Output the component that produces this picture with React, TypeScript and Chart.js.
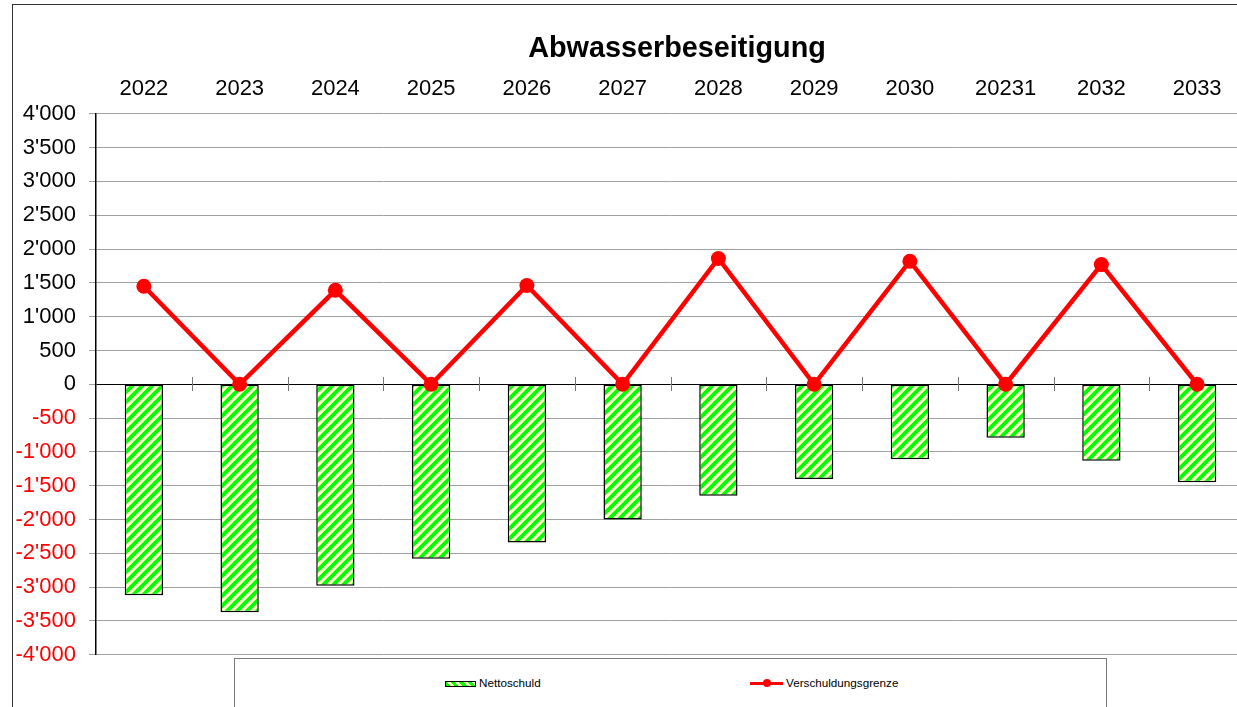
import React, { useEffect, useRef } from 'react';
import { Chart, registerables } from 'chart.js';
Chart.register(...registerables);

const categories = ['2022', '2023', '2024', '2025', '2026', '2027', '2028', '2029', '2030', '20231', '2032', '2033'];
const nettoschuld = [-3120, -3370, -2980, -2580, -2340, -2000, -1650, -1400, -1110, -790, -1130, -1450];
const verschuldungsgrenze = [1450, 0, 1390, 0, 1460, 0, 1860, 0, 1820, 0, 1770, 0];
const yMin = -4000;
const yMax = 4000;
const yStep = 500;
const titleText = 'Abwasserbeseitigung';
const legendLabels = ['Nettoschuld', 'Verschuldungsgrenze'];

const FONT = "'Liberation Sans', Arial, sans-serif";

function fmt(v: number): string {
  const s = Math.abs(v).toString().replace(/\B(?=(\d{3})+(?!\d))/g, "'");
  return (v < 0 ? '-' : '') + s;
}

function makePattern(ctx: CanvasRenderingContext2D) {
  const c = document.createElement('canvas');
  c.width = 10;
  c.height = 10;
  const g = c.getContext('2d')!;
  g.fillStyle = '#ffffc8';
  g.fillRect(0, 0, 10, 10);
  g.strokeStyle = '#00ff00';
  g.lineWidth = 3.8;
  g.beginPath();
  g.moveTo(-5, 15); g.lineTo(15, -5);
  g.moveTo(-5, 5); g.lineTo(5, -5);
  g.moveTo(5, 15); g.lineTo(15, 5);
  g.stroke();
  return ctx.createPattern(c, 'repeat');
}

const zeroTicks = {
  id: 'zeroTicks',
  beforeDatasetsDraw(chart: any) {
    const { ctx, scales } = chart;
    const x = scales.x;
    const y = scales.y;
    const y0 = Math.round(y.getPixelForValue(0));
    ctx.save();
    ctx.strokeStyle = '#777';
    ctx.lineWidth = 1;
    for (let i = 0; i < categories.length - 1; i++) {
      const px = Math.round((x.getPixelForValue(i) + x.getPixelForValue(i + 1)) / 2) + 0.5;
      ctx.beginPath();
      ctx.moveTo(px, y0 - 7);
      ctx.lineTo(px, y0 + 7);
      ctx.stroke();
    }
    ctx.restore();
  },
};

export default function App() {
  const ref = useRef<HTMLCanvasElement>(null);

  useEffect(() => {
    const canvas = ref.current!;
    const ctx = canvas.getContext('2d')!;
    const pattern = makePattern(ctx);
    const chart = new Chart(ctx, {
      type: 'bar',
      data: {
        labels: categories,
        datasets: [
          {
            type: 'line',
            label: legendLabels[1],
            data: verschuldungsgrenze,
            borderColor: '#ff0000',
            backgroundColor: '#ff0000',
            borderWidth: 4.5,
            pointRadius: 7.5,
            pointBackgroundColor: '#ff0000',
            pointBorderWidth: 0,
            tension: 0,
            order: 0,
          } as any,
          {
            type: 'bar',
            label: legendLabels[0],
            data: nettoschuld,
            backgroundColor: pattern as any,
            borderColor: '#000',
            borderWidth: 1.5,
            borderSkipped: false,
            categoryPercentage: 1,
            barPercentage: 0.4,
            order: 1,
          } as any,
        ],
      },
      options: {
        responsive: false,
        animation: false,
        events: [],
        layout: { padding: { left: 0, right: 0, top: 0, bottom: 20.7 } },
        plugins: {
          legend: { display: false },
          tooltip: { enabled: false },
          title: {
            display: true,
            text: titleText,
            color: '#000',
            font: { family: FONT, size: 28.8, weight: 'bold', lineHeight: 1.2 },
            padding: { top: 27, bottom: 0 },
          },
        },
        scales: {
          x: {
            position: 'top',
            grid: { display: false, drawTicks: false },
            border: { display: false },
            ticks: {
              color: '#000',
              font: { family: FONT, size: 22 },
              padding: 12,
              maxRotation: 0,
              autoSkip: false,
            },
            afterFit(s: any) { s.height = 47.2; },
          },
          y: {
            min: yMin,
            max: yMax,
            ticks: {
              stepSize: yStep,
              callback: (v: any) => fmt(Number(v)),
              color: (c: any) => (c.tick && c.tick.value < 0 ? '#ff0000' : '#000'),
              font: { family: FONT, size: 22 },
              padding: 13,
            },
            grid: {
              color: (c: any) => (c.tick && c.tick.value === 0 ? '#000' : '#a0a0a0'),
              tickColor: '#a0a0a0',
              tickLength: 7,
              lineWidth: 1,
            },
            border: { color: '#000', width: 1.5 },
            afterFit(s: any) { s.width = 83; },
          },
          y2: {
            position: 'right',
            display: true,
            min: yMin,
            max: yMax,
            grid: { display: false, drawTicks: false },
            border: { display: false },
            ticks: { display: false },
            afterFit(s: any) { s.width = 96; },
          },
        },
      } as any,
      plugins: [zeroTicks],
    });
    return () => chart.destroy();
  }, []);

  const legendText: React.CSSProperties = {
    position: 'absolute',
    fontFamily: FONT,
    fontSize: '11.7px',
    lineHeight: '14px',
    color: '#000',
    whiteSpace: 'nowrap',
  };

  return (
    <div style={{ position: 'absolute', left: 0, top: 0, width: 1237, height: 707, overflow: 'hidden', background: '#fff' }}>
      <div style={{ position: 'absolute', left: 12, top: 4, width: 1400, height: 800, borderLeft: '1px solid #333', borderTop: '1px solid #333' }} />
      <canvas ref={ref} width={1328} height={676} style={{ position: 'absolute', left: 13, top: 5, width: 1328, height: 676 }} />
      <div style={{ position: 'absolute', left: 234, top: 658, width: 871, height: 100, border: '1px solid #777', background: '#fff' }}>
        <div style={{ position: 'absolute', left: 210, top: 21.5, width: 31, height: 6, boxSizing: 'border-box', border: '1px solid #000', background: 'repeating-linear-gradient(45deg, #00ff00 0px, #00ff00 3px, #ffffc8 3px, #ffffc8 6px)' }} />
        <div style={{ ...legendText, left: 244, top: 17.3 }}>{legendLabels[0]}</div>
        <div style={{ position: 'absolute', left: 515, top: 22.8, width: 33, height: 3, background: '#ff0000' }} />
        <div style={{ position: 'absolute', left: 528, top: 20.3, width: 8, height: 8, borderRadius: 4, background: '#ff0000' }} />
        <div style={{ ...legendText, left: 551, top: 17.3 }}>{legendLabels[1]}</div>
      </div>
    </div>
  );
}
